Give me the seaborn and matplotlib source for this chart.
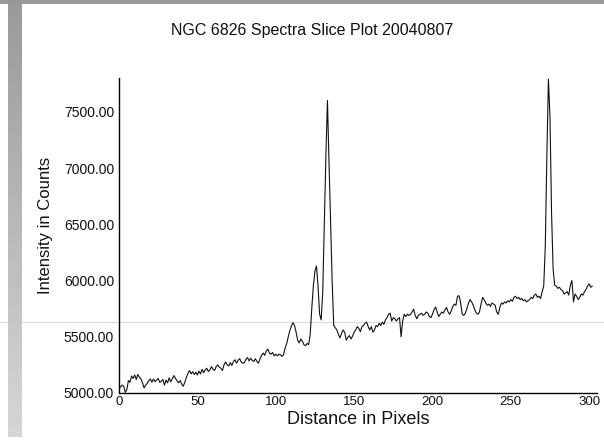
import numpy as np
import pandas as pd
import matplotlib
matplotlib.use("Agg")
import matplotlib.pyplot as plt
from matplotlib.lines import Line2D
from matplotlib.patches import Rectangle
from matplotlib.ticker import FormatStrFormatter
import seaborn as sns

title = "NGC 6826 Spectra Slice Plot 20040807"
x_label = "Distance in Pixels"
y_label = "Intensity in Counts"
x_ticks = [0, 50, 100, 150, 200, 250, 300]
y_ticks = [5000, 5500, 6000, 6500, 7000, 7500]

intensity = [
    5040, 5055, 5070, 5060, 5005, 5030, 5110, 5095, 5150, 5130,
    5160, 5120, 5165, 5140, 5125, 5090, 5045, 5070, 5085, 5110,
    5125, 5095, 5125, 5100, 5115, 5130, 5095, 5105, 5120, 5070,
    5115, 5090, 5135, 5100, 5125, 5155, 5130, 5110, 5090, 5110,
    5080, 5060, 5095, 5140, 5175, 5200, 5170, 5190, 5165, 5185,
    5160, 5195, 5170, 5210, 5180, 5205, 5220, 5190, 5205, 5235,
    5210, 5200, 5235, 5250, 5230, 5220, 5200, 5250, 5275, 5250,
    5240, 5270, 5245, 5280, 5295, 5265, 5290, 5305, 5275, 5265,
    5270, 5300, 5315, 5285, 5310, 5290, 5280, 5305, 5280, 5265,
    5305, 5335, 5355, 5335, 5375, 5390, 5355, 5345, 5360, 5330,
    5345, 5330, 5345, 5340, 5325, 5340, 5400, 5440, 5500, 5555,
    5595, 5625, 5600, 5540, 5470, 5445, 5480, 5460, 5430, 5420,
    5440, 5430, 5520, 5750, 5950, 6080, 6130, 5950, 5700, 5650,
    5900, 6500, 7100, 7600, 7050, 6540, 6000, 5600, 5580, 5560,
    5520, 5490, 5530, 5560, 5540, 5470, 5495, 5510, 5480, 5505,
    5540, 5560, 5590, 5575, 5545, 5590, 5600, 5620, 5630, 5590,
    5560, 5590, 5540, 5560, 5600, 5590, 5620, 5600, 5630, 5610,
    5650, 5670, 5700, 5710, 5640, 5670, 5660, 5640, 5660, 5670,
    5500, 5640, 5700, 5680, 5700, 5690, 5700, 5720, 5745, 5690,
    5660, 5690, 5700, 5710, 5690, 5700, 5720, 5710, 5680, 5670,
    5700, 5740, 5765, 5720, 5680, 5700, 5720, 5710, 5740, 5760,
    5720, 5700, 5730, 5770, 5790, 5780, 5860, 5865, 5800, 5700,
    5690, 5710, 5750, 5800, 5830, 5810, 5780, 5740, 5710, 5700,
    5720, 5790, 5850, 5830, 5800, 5780, 5790, 5770, 5800, 5790,
    5780, 5720, 5700, 5760, 5800, 5790, 5810, 5800, 5820, 5810,
    5830, 5815, 5850, 5860, 5840, 5850, 5830, 5840, 5820, 5830,
    5810, 5820, 5830, 5850, 5840, 5870, 5880, 5850, 5860, 5840,
    5900, 5950, 6300, 7100, 7790, 7450, 6600, 6100, 5960, 5950,
    5930, 5940, 5920, 5910, 5880, 5890, 5900, 5870, 5960, 6000,
    5810, 5880, 5860, 5830, 5850, 5880, 5870, 5900, 5920, 5950,
    5970, 5940, 5950,
]
distance = list(range(len(intensity)))

df = pd.DataFrame({"distance": distance, "intensity": intensity})

sns.set_style("white")
plt.rcParams["font.family"] = ["Liberation Sans", "DejaVu Sans"]

W, H = 604, 446
fig = plt.figure(figsize=(W / 100, H / 100), dpi=100)
fig.patch.set_facecolor("white")

# slide decorations: top bar, left gradient bar, thin horizontal rule
fig.add_artist(Rectangle((0, 1 - 4 / H), 1, 4 / H, transform=fig.transFigure,
                         facecolor="#9a9a9a", edgecolor="none", zorder=0))
gax = fig.add_axes([8 / W, (H - 437) / H, 14 / W, 437 / H], zorder=0)
grad = np.linspace(0.60, 0.84, 256).reshape(-1, 1)
gax.imshow(grad, aspect="auto", cmap="gray", vmin=0, vmax=1)
gax.set_axis_off()
fig.add_artist(Line2D([0, 1], [1 - 322 / H, 1 - 322 / H], transform=fig.transFigure,
                      color="#dcdcdc", linewidth=0.9, zorder=0))

ax = fig.add_axes([119 / W, (H - 393) / H, (597 - 119) / W, (393 - 78) / H], zorder=1)
ax.patch.set_alpha(0)
sns.lineplot(data=df, x="distance", y="intensity", ax=ax, color="#111111",
             linewidth=0.8)

ax.set_xlim(0, 305)
ax.set_ylim(5000, 7800)
ax.set_xticks(x_ticks)
ax.set_yticks(y_ticks)
ax.yaxis.set_major_formatter(FormatStrFormatter("%.2f"))
ax.tick_params(axis="both", length=0, colors="#111111")
ax.tick_params(axis="y", labelsize=10, pad=3.5)
ax.tick_params(axis="x", labelsize=9.5, pad=2.5)
for s in ["top", "right"]:
    ax.spines[s].set_visible(False)
for s in ["left", "bottom"]:
    ax.spines[s].set_color("black")
    ax.spines[s].set_linewidth(1.0)
ax.set_xlabel(x_label, fontsize=13, labelpad=2, color="#111111")
ax.set_ylabel("")
fig.text(46 / W, 1 - 225 / H, y_label, rotation=90, fontsize=12,
         ha="center", va="center", color="#111111")
fig.text(312 / W, 1 - 31 / H, title, fontsize=11.5, ha="center", va="center",
         color="#111111")

fig.savefig("out.png", dpi=100)
